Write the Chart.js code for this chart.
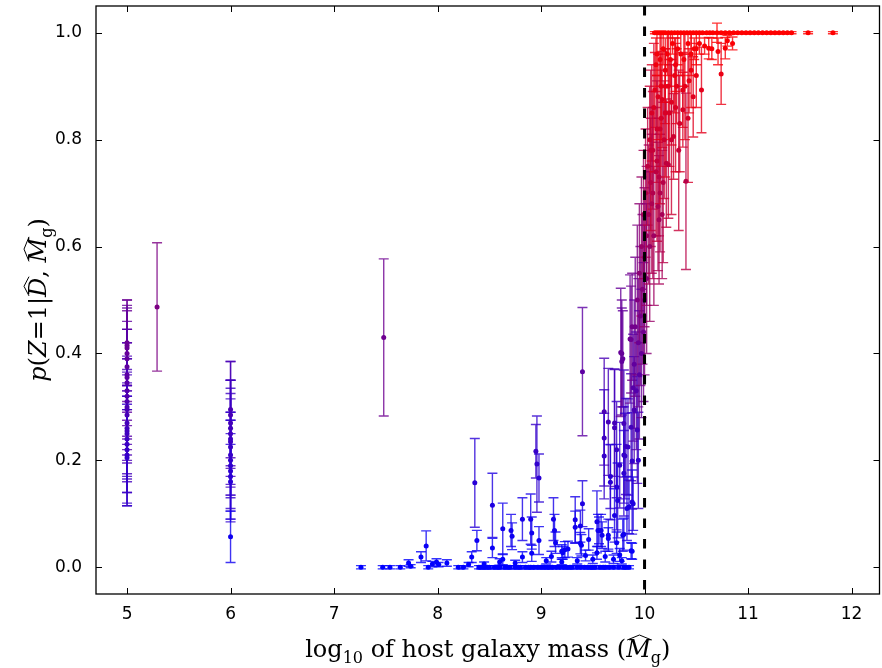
<!DOCTYPE html>
<html lang="en">
<head>
<meta charset="UTF-8">
<title>p(Z=1) vs host galaxy mass</title>
<script src="https://cdn.jsdelivr.net/npm/chart.js@4.4.1/dist/chart.umd.min.js"></script>
<style>
  html, body { margin: 0; padding: 0; background: #fff; }
  #wrap { width: 882px; height: 668px; }
</style>
</head>
<body>
<div id="wrap"><canvas id="chart" width="882" height="668"></canvas></div>
<script>
// each entry: [log10 host mass, p(Z=1), 1-sigma error]
const lowMassPoints = [
  [5, 0.42, 0.08], [5, 0.415, 0.085], [5, 0.41, 0.07], [5, 0.40, 0.09], [5, 0.39, 0.095],
  [5, 0.375, 0.085], [5, 0.36, 0.085], [5, 0.355, 0.09], [5, 0.345, 0.1], [5, 0.33, 0.09],
  [5, 0.32, 0.1], [5, 0.31, 0.08], [5, 0.30, 0.09], [5, 0.295, 0.1], [5, 0.285, 0.085],
  [5, 0.27, 0.095], [5, 0.26, 0.1], [5, 0.255, 0.09], [5, 0.25, 0.08], [5, 0.24, 0.1],
  [5, 0.23, 0.09], [5, 0.22, 0.1], [5, 0.21, 0.095], [5, 0.205, 0.09],
  [5.29, 0.487, 0.12],
  [6, 0.295, 0.09], [6, 0.285, 0.1], [6, 0.27, 0.08], [6, 0.26, 0.09], [6, 0.25, 0.1],
  [6, 0.24, 0.085], [6, 0.235, 0.1], [6, 0.225, 0.09], [6, 0.21, 0.08], [6, 0.2, 0.09],
  [6, 0.19, 0.085], [6, 0.18, 0.095], [6, 0.17, 0.08], [6, 0.16, 0.07], [6, 0.057, 0.048],
  [7.48, 0.43, 0.147]
];

const sparsePoints = [
  [7.26, 0, 0.003], [7.47, 0, 0.003], [7.54, 0, 0.003], [7.64, 0, 0.003], [7.72, 0.008, 0.006],
  [7.74, 0.002, 0.003], [7.84, 0.019, 0.01], [7.89, 0.04, 0.028], [7.91, 0, 0.003], [7.95, 0.006, 0.005],
  [7.99, 0.01, 0.006], [8.01, 0.005, 0.004], [8.09, 0.008, 0.006], [8.20, 0, 0.003], [8.30, 0.005, 0.004],
  [8.33, 0.019, 0.01]
];

const zeroRowX = [
  8.25, 8.40, 8.42, 8.45, 8.48, 8.50, 8.55, 8.58, 8.60, 8.65, 8.68, 8.70, 8.75, 8.78, 8.80,
  8.85, 8.88, 8.90, 8.93, 8.97, 9.00, 9.03, 9.06, 9.08, 9.11, 9.15, 9.18, 9.22, 9.25, 9.28,
  9.30, 9.35, 9.38, 9.42, 9.45, 9.48, 9.50, 9.52, 9.57, 9.60, 9.62, 9.66, 9.70, 9.75, 9.80,
  9.82, 9.85
];

const midPoints = [
  [8.45, 0.006, 0.004], [8.60, 0.01, 0.006], [8.75, 0.008, 0.005], [9.05, 0.012, 0.006], [9.20, 0.01, 0.005],
  [9.35, 0.012, 0.006], [9.50, 0.015, 0.008], [9.62, 0.02, 0.01], [9.70, 0.015, 0.008], [9.78, 0.012, 0.006],
  [8.36, 0.158, 0.083], [8.38, 0.05, 0.019], [8.53, 0.116, 0.06], [8.53, 0.036, 0.018], [8.63, 0.072, 0.048],
  [8.71, 0.069, 0.03], [8.72, 0.058, 0.025], [8.63, 0.015, 0.01], [8.82, 0.09, 0.04], [8.82, 0.019, 0.01],
  [8.90, 0.09, 0.047], [8.91, 0.064, 0.03], [8.91, 0.026, 0.015], [8.96, 0.193, 0.09], [8.95, 0.217, 0.05],
  [8.98, 0.167, 0.045], [8.98, 0.05, 0.026], [9.12, 0.09, 0.04], [9.13, 0.069, 0.03], [9.14, 0.046, 0.02],
  [9.10, 0.02, 0.01], [9.21, 0.027, 0.012], [9.23, 0.033, 0.015], [9.26, 0.034, 0.015], [9.20, 0.03, 0.012],
  [9.33, 0.089, 0.043], [9.33, 0.075, 0.03], [9.38, 0.077, 0.03], [9.38, 0.045, 0.02], [9.40, 0.366, 0.12],
  [9.40, 0.119, 0.043], [9.39, 0.041, 0.02], [9.46, 0.052, 0.02], [9.43, 0.022, 0.01], [9.54, 0.085, 0.058],
  [9.54, 0.027, 0.012], [9.55, 0.069, 0.03], [9.56, 0.069, 0.025], [9.58, 0.069, 0.03], [9.59, 0.06, 0.025],
  [9.61, 0.291, 0.1], [9.61, 0.242, 0.09], [9.61, 0.208, 0.08], [9.65, 0.272, 0.1], [9.65, 0.06, 0.03],
  [9.65, 0.054, 0.02], [9.67, 0.17, 0.06], [9.67, 0.159, 0.07], [9.71, 0.261, 0.11], [9.71, 0.27, 0.1],
  [9.71, 0.097, 0.05], [9.73, 0.22, 0.09], [9.73, 0.15, 0.08], [9.73, 0.046, 0.02], [9.74, 0.125, 0.07],
  [9.76, 0.191, 0.08], [9.76, 0.023, 0.012], [9.77, 0.402, 0.12], [9.78, 0.385, 0.1], [9.78, 0.40, 0.1],
  [9.79, 0.39, 0.09], [9.79, 0.06, 0.03], [9.80, 0.269, 0.1], [9.80, 0.21, 0.09], [9.80, 0.176, 0.08],
  [9.80, 0.062, 0.03], [9.81, 0.208, 0.08], [9.82, 0.226, 0.09], [9.83, 0.11, 0.06], [9.84, 0.225, 0.09],
  [9.85, 0.113, 0.05], [9.86, 0.427, 0.12], [9.87, 0.262, 0.1], [9.87, 0.426, 0.1], [9.88, 0.45, 0.1],
  [9.88, 0.199, 0.09], [9.88, 0.122, 0.06], [9.88, 0.03, 0.015], [9.87, 0.031, 0.015], [9.89, 0.336, 0.1],
  [9.89, 0.119, 0.05], [9.90, 0.294, 0.1], [9.93, 0.257, 0.1], [9.94, 0.2, 0.09]
];

const transitionPoints = [
  [9.90, 0.38, 0.12], [9.91, 0.45, 0.13], [9.92, 0.33, 0.11], [9.93, 0.5, 0.14], [9.94, 0.42, 0.12],
  [9.95, 0.36, 0.12], [9.95, 0.55, 0.13], [9.96, 0.47, 0.13], [9.97, 0.4, 0.12], [9.97, 0.6, 0.13],
  [9.98, 0.52, 0.14], [9.99, 0.44, 0.13], [9.99, 0.66, 0.12], [10.0, 0.58, 0.13], [10.0, 0.5, 0.14],
  [10.01, 0.7, 0.12], [10.02, 0.62, 0.13], [10.02, 0.54, 0.14], [10.03, 0.75, 0.11], [10.04, 0.66, 0.13],
  [10.05, 0.8, 0.1], [10.05, 0.6, 0.14], [10.06, 0.72, 0.12], [10.07, 0.85, 0.09], [10.07, 0.68, 0.13],
  [10.08, 0.78, 0.11], [10.09, 0.62, 0.13], [10.10, 0.893, 0.07], [10.11, 0.94, 0.05], [10.11, 0.74, 0.12],
  [10.12, 0.82, 0.1], [10.13, 0.675, 0.12], [10.14, 0.65, 0.12], [10.14, 0.73, 0.11], [10.15, 0.70, 0.11],
  [10.17, 0.66, 0.12], [10.17, 0.875, 0.09], [10.19, 0.80, 0.11], [10.21, 0.756, 0.12], [10.23, 0.753, 0.1],
  [10.24, 0.85, 0.1], [10.28, 0.806, 0.08], [10.29, 0.92, 0.07], [10.37, 0.856, 0.07], [10.37, 0.893, 0.07],
  [10.40, 0.722, 0.165], [10.47, 0.88, 0.075], [10.55, 0.893, 0.08], [10.74, 0.923, 0.057],
  [10.13, 0.88, 0.08], [10.16, 0.84, 0.09], [10.20, 0.90, 0.07], [10.26, 0.87, 0.08], [10.31, 0.90, 0.07],
  [10.34, 0.83, 0.09], [10.43, 0.91, 0.06],
  [10.06, 0.78, 0.15], [10.08, 0.70, 0.16], [10.09, 0.86, 0.12], [10.12, 0.76, 0.15], [10.15, 0.82, 0.14],
  [10.16, 0.90, 0.10], [10.18, 0.72, 0.15], [10.20, 0.85, 0.12], [10.23, 0.90, 0.10], [10.26, 0.80, 0.14],
  [10.30, 0.86, 0.12], [10.33, 0.78, 0.15], [10.39, 0.90, 0.10], [10.42, 0.84, 0.12], [10.45, 0.93, 0.07],
  [10.50, 0.92, 0.06]
];

const nearOnePoints = [
  [10.12, 0.96, 0.04], [10.15, 0.95, 0.05], [10.18, 0.97, 0.03], [10.20, 0.93, 0.06], [10.22, 0.96, 0.04],
  [10.25, 0.95, 0.05], [10.27, 0.98, 0.02], [10.30, 0.94, 0.05], [10.32, 0.97, 0.03], [10.35, 0.96, 0.04],
  [10.38, 0.95, 0.05], [10.42, 0.98, 0.02], [10.45, 0.96, 0.04], [10.48, 0.97, 0.02], [10.50, 0.97, 0.03],
  [10.53, 0.98, 0.02], [10.58, 0.975, 0.015], [10.62, 0.971, 0.02], [10.65, 0.97, 0.02], [10.71, 0.965, 0.025],
  [10.70, 1.0, 0.018], [10.78, 0.971, 0.02], [10.80, 0.985, 0.01], [10.85, 0.98, 0.012]
];

const oneRowX = [
  10.10, 10.12, 10.14, 10.16, 10.18, 10.20, 10.23, 10.26, 10.29, 10.32, 10.35, 10.38, 10.41, 10.44,
  10.47, 10.50, 10.53, 10.56, 10.60, 10.63, 10.66, 10.74, 10.78, 10.82, 10.86, 10.90, 10.94, 10.98,
  11.02, 11.06, 11.10, 11.14, 11.18, 11.22, 11.26, 11.30, 11.34, 11.38, 11.42, 11.58, 11.82
];

const xTicks = [5, 6, 7, 8, 9, 10, 11, 12];
const yTicks = [0, 0.2, 0.4, 0.6, 0.8, 1.0];
const massCut = 10;

const allPoints = []
  .concat(lowMassPoints, sparsePoints, midPoints, transitionPoints, nearOnePoints)
  .concat(zeroRowX.map(x => [x, 0, 0.003]))
  .concat(oneRowX.map(x => [x, 1, 0.002]));

function probColor(p, a) {
  const q = Math.max(0, Math.min(1, p));
  return 'rgba(' + Math.round(255 * q) + ',0,' + Math.round(255 * (1 - q)) + ',' + a + ')';
}

const errorBars = {
  id: 'errorBars',
  beforeDatasetsDraw(chart) {
    const { ctx, scales: { x, y } } = chart;
    ctx.save();
    ctx.lineWidth = 1.4;
    chart.data.datasets[0].data.forEach(d => {
      const px = x.getPixelForValue(d.x);
      const top = y.getPixelForValue(d.y + d.e);
      const bot = y.getPixelForValue(d.y - d.e);
      ctx.strokeStyle = probColor(d.y, 0.8);
      ctx.beginPath();
      ctx.moveTo(px, top); ctx.lineTo(px, bot);
      ctx.moveTo(px - 5, top); ctx.lineTo(px + 5, top);
      ctx.moveTo(px - 5, bot); ctx.lineTo(px + 5, bot);
      ctx.stroke();
    });
    ctx.restore();
  }
};

function drawRich(ctx, segs, cx, cy, rot) {
  let w = 0;
  segs.forEach(s => { ctx.font = s.f; s.w = ctx.measureText(s.t).width; w += s.w; });
  ctx.save();
  ctx.translate(cx, cy);
  ctx.rotate(rot);
  ctx.fillStyle = '#000';
  ctx.strokeStyle = '#000';
  ctx.textBaseline = 'alphabetic';
  let px = -w / 2;
  segs.forEach(s => {
    ctx.font = s.f;
    ctx.fillText(s.t, px, s.dy || 0);
    if (s.hat) {
      ctx.lineWidth = 1;
      ctx.beginPath();
      ctx.moveTo(px + 1, -s.hat + 5);
      ctx.lineTo(px + s.w / 2 + 1, -s.hat);
      ctx.lineTo(px + s.w + 1, -s.hat + 5);
      ctx.stroke();
    }
    px += s.w;
  });
  ctx.restore();
}

const frame = {
  id: 'frame',
  afterDatasetsDraw(chart) {
    const { ctx, chartArea: a, scales: { x, y } } = chart;
    ctx.save();
    // dashed cut at log10 M = 10
    const cx = x.getPixelForValue(massCut);
    ctx.strokeStyle = '#000';
    ctx.lineWidth = 3;
    ctx.setLineDash([9.5, 11]);
    ctx.beginPath();
    ctx.moveTo(cx, a.top); ctx.lineTo(cx, a.bottom);
    ctx.stroke();
    ctx.setLineDash([]);
    // box and inward ticks
    ctx.lineWidth = 1.3;
    ctx.strokeRect(a.left, a.top, a.right - a.left, a.bottom - a.top);
    ctx.lineWidth = 1;
    ctx.beginPath();
    xTicks.forEach(v => {
      const p = Math.round(x.getPixelForValue(v)) + 0.5;
      ctx.moveTo(p, a.bottom); ctx.lineTo(p, a.bottom - 6);
      ctx.moveTo(p, a.top); ctx.lineTo(p, a.top + 6);
    });
    yTicks.forEach(v => {
      const p = Math.round(y.getPixelForValue(v)) + 0.5;
      ctx.moveTo(a.left, p); ctx.lineTo(a.left + 6, p);
      ctx.moveTo(a.right, p); ctx.lineTo(a.right - 6, p);
    });
    ctx.stroke();
    ctx.restore();

    const serif = '"DejaVu Serif", "Liberation Serif", serif';
    const rm = '24px ' + serif;
    const it = 'italic 24px ' + serif;
    const sub = '16px ' + serif;
    drawRich(ctx, [
      { t: 'log', f: rm }, { t: '10', f: sub, dy: 6 },
      { t: ' of host galaxy mass (', f: rm },
      { t: 'M', f: it, hat: 22 }, { t: 'g', f: sub, dy: 6 }, { t: ')', f: rm }
    ], (a.left + a.right) / 2, 657, 0);
    drawRich(ctx, [
      { t: 'p', f: it }, { t: '(', f: rm }, { t: 'Z', f: it }, { t: '=', f: rm },
      { t: '1|', f: rm }, { t: 'D', f: it, hat: 22 }, { t: ', ', f: rm },
      { t: 'M', f: it, hat: 22 }, { t: 'g', f: sub, dy: 6 }, { t: ')', f: rm }
    ], 46, 300, -Math.PI / 2);
  }
};

new Chart(document.getElementById('chart'), {
  type: 'scatter',
  data: {
    datasets: [{
      data: allPoints.map(p => ({ x: p[0], y: p[1], e: p[2] })),
      pointRadius: 2.5,
      pointHoverRadius: 2.5,
      borderWidth: 0,
      pointBackgroundColor: c => probColor(c.raw ? c.raw.y : 0, 1)
    }]
  },
  options: {
    responsive: false,
    animation: false,
    events: [],
    layout: { padding: { top: 6, right: 1, left: 0, bottom: 0 } },
    plugins: { legend: { display: false }, tooltip: { enabled: false } },
    scales: {
      x: {
        type: 'linear',
        min: 4.7,
        max: 12.27,
        afterBuildTicks: s => { s.ticks = xTicks.map(v => ({ value: v })); },
        afterFit: s => { s.height = 74; s.paddingLeft = 0; s.paddingRight = 0; },
        grid: { display: false },
        border: { display: false },
        ticks: { color: '#000', padding: 2, font: { family: 'DejaVu Sans', size: 17 } }
      },
      y: {
        type: 'linear',
        min: -0.05,
        max: 1.05,
        afterBuildTicks: s => { s.ticks = yTicks.map(v => ({ value: v })); },
        afterFit: s => { s.width = 96; s.paddingTop = 0; s.paddingBottom = 0; },
        grid: { display: false },
        border: { display: false },
        ticks: {
          color: '#000', padding: 6, font: { family: 'DejaVu Sans', size: 17 },
          callback: v => v.toFixed(1)
        }
      }
    }
  },
  plugins: [errorBars, frame]
});
</script>
</body>
</html>
